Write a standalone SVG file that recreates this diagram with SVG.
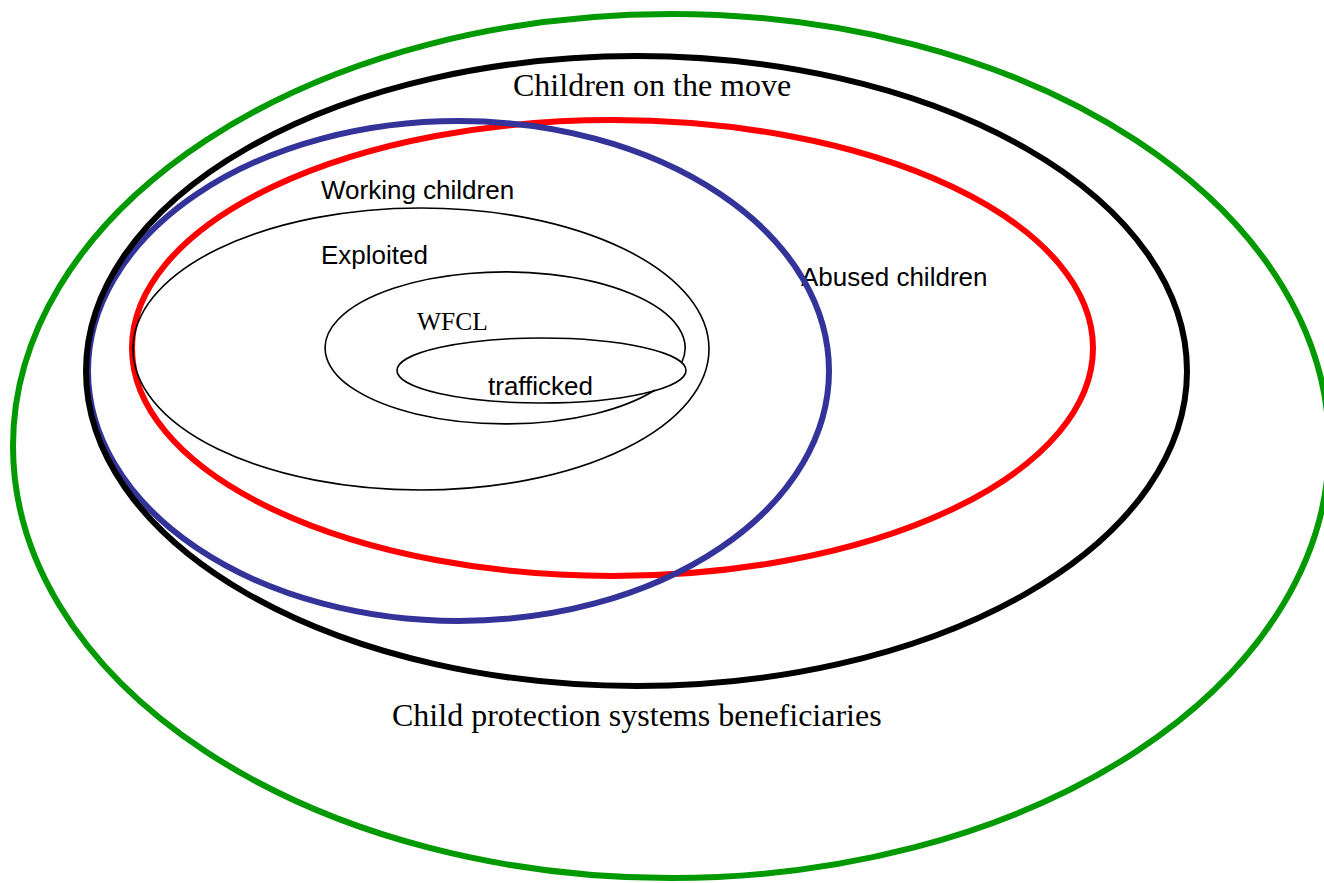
<svg xmlns="http://www.w3.org/2000/svg" width="1324" height="883" viewBox="0 0 1324 883">
<style>
.thick{fill:none;stroke-width:6}
.thin{fill:none;stroke:#000;stroke-width:1.6}
.serif{font-family:"Liberation Serif","Times New Roman",serif;fill:#000}
.sans{font-family:"Liberation Sans",Arial,sans-serif;font-size:26px;fill:#000}
</style>
<rect width="1324" height="883" fill="#fff"/>
<g id="cps">
<ellipse class="thick" cx="671" cy="446" rx="658" ry="432" stroke="#009900"/>
<text class="serif" x="392" y="726" font-size="32">Child protection systems beneficiaries</text>
</g>
<g id="abused">
<ellipse class="thick" cx="612.5" cy="348" rx="480.5" ry="228" stroke="#ff0000"/>
<text class="sans" x="801" y="286">Abused children</text>
</g>
<g id="blue">
<ellipse class="thick" cx="458.5" cy="371" rx="370.5" ry="250" stroke="#333399"/>
</g>
<g id="move">
<ellipse class="thick" cx="636.5" cy="371" rx="550.5" ry="315" stroke="#000"/>
<text class="serif" x="513" y="96" font-size="32">Children on the move</text>
</g>
<g id="working">
<ellipse class="thin" cx="421" cy="349" rx="288" ry="141"/>
<text class="sans" x="321" y="199">Working children</text>
</g>
<g id="exploited">
<path class="thin" d="M 682 362 A 180 76 0 1 0 655 390"/>
<text class="sans" x="321" y="264">Exploited</text>
</g>
<g id="wfcl">
<text class="serif" x="417" y="330" font-size="25.5">WFCL</text>
</g>
<g id="trafficked">
<ellipse class="thin" cx="541.5" cy="370.5" rx="144.5" ry="32.5"/>
<text class="sans" x="488" y="395">trafficked</text>
</g>
<g id="connectors"></g>
</svg>
